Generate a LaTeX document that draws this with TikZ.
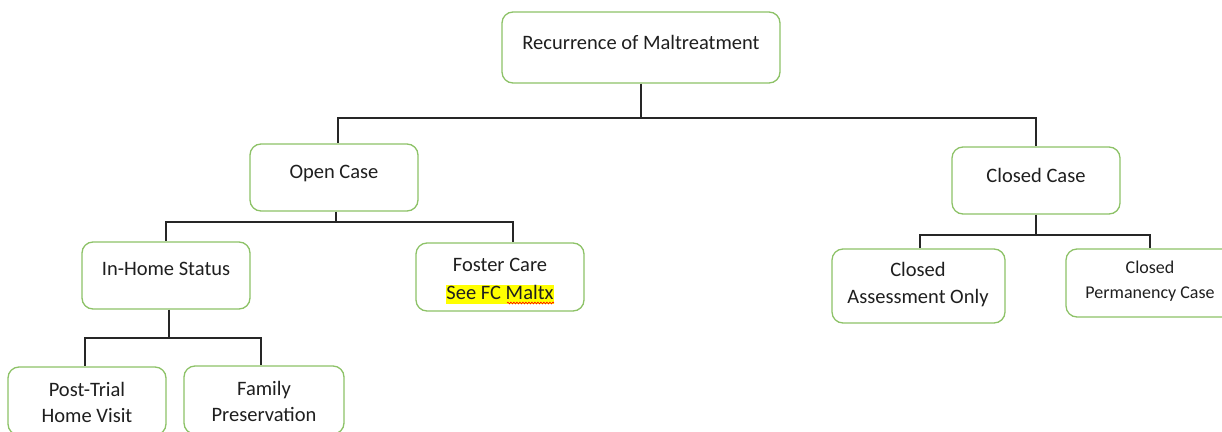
\documentclass[tikz,border=0pt]{standalone}
\usepackage{fontspec}
\setmainfont{Carlito}
\usetikzlibrary{decorations.pathmorphing}
\definecolor{boxgreen}{RGB}{141,194,103}
\definecolor{linegray}{RGB}{38,38,38}
\definecolor{hlyellow}{RGB}{255,255,0}
\begin{document}
\begin{tikzpicture}[x=1pt,y=-1pt,
  box/.style={draw=boxgreen, line width=1.3pt, rounded corners=11pt, fill=white, inner sep=0pt},
  lbl/.style={align=center, inner sep=0pt, font=\fontsize{20.5}{26.5}\selectfont, text=black!88},
  lblsmall/.style={lbl, font=\fontsize{18}{24.5}\selectfont},
  conn/.style={draw=linegray, line width=1.1pt}]
\useasboundingbox (0,0) rectangle (1222,431);

% boxes
\node[box, minimum width=278, minimum height=71] (rec) at (641,47.5) {};
\node[box, minimum width=168, minimum height=67] (open) at (334,177.5) {};
\node[box, minimum width=168, minimum height=67] (closed) at (1036,180.5) {};
\node[box, minimum width=168, minimum height=67] (inhome) at (166,275.5) {};
\node[box, minimum width=168, minimum height=68] (foster) at (500,277) {};
\node[box, minimum width=158, minimum height=68] (post) at (87,401) {};
\node[box, minimum width=160, minimum height=68] (family) at (264,400) {};
\node[box, minimum width=173, minimum height=74] (assess) at (918.5,286) {};
\node[box, minimum width=168, minimum height=68] (perm) at (1150,283) {};

% texts
\node[lbl] (rec-t) at (641,42) {Recurrence of Maltreatment};
\node[lbl] (open-t) at (334,173.5) {Open Case};
\node[lbl] (closed-t) at (1036,175) {Closed Case};
\node[lbl] (inhome-t) at (166,269) {In-Home Status};
\node[lbl, font=\fontsize{20.5}{28}\selectfont] (foster-t) at (500,281) {Foster Care\\{\setlength{\fboxsep}{0pt}\colorbox{hlyellow}{\rule[-0.22em]{0pt}{0.86em}See FC Maltx}}};
\node[lbl] (post-t) at (87,402.5) {Post-Trial\\Home Visit};
\node[lbl] (family-t) at (264,401.5) {Family\\Preservation};
\node[lbl] (assess-t) at (918,284.5) {Closed\\Assessment Only};
\node[lblsmall] (perm-t) at (1150,281) {Closed\\Permanency Case};

% spell-check underline
\draw[red, line width=0.6pt, decorate, decoration={snake, amplitude=0.9pt, segment length=3pt}] (507,303) -- (554,303);

% connectors
\coordinate (j1) at (641,118);
\draw[conn] (rec.south) -- (j1);
\draw[conn] (j1) -| ([xshift=4]open.north);
\draw[conn] (j1) -| (closed.north);

\coordinate (j2) at (336,222);
\draw[conn] (open.south -| j2) -- (j2);
\draw[conn] (j2) -| (inhome.north);
\draw[conn] (j2) -| ([xshift=13]foster.north);

\coordinate (j3) at (169,338);
\draw[conn] (inhome.south -| j3) -- (j3);
\draw[conn] (j3) -| ([xshift=-2]post.north);
\draw[conn] (j3) -| ([xshift=-3]family.north);

\coordinate (j4) at (1036,235);
\draw[conn] (closed.south) -- (j4);
\draw[conn] (j4) -| ([xshift=1.5]assess.north);
\draw[conn] (j4) -| (perm.north);
\end{tikzpicture}
\end{document}
